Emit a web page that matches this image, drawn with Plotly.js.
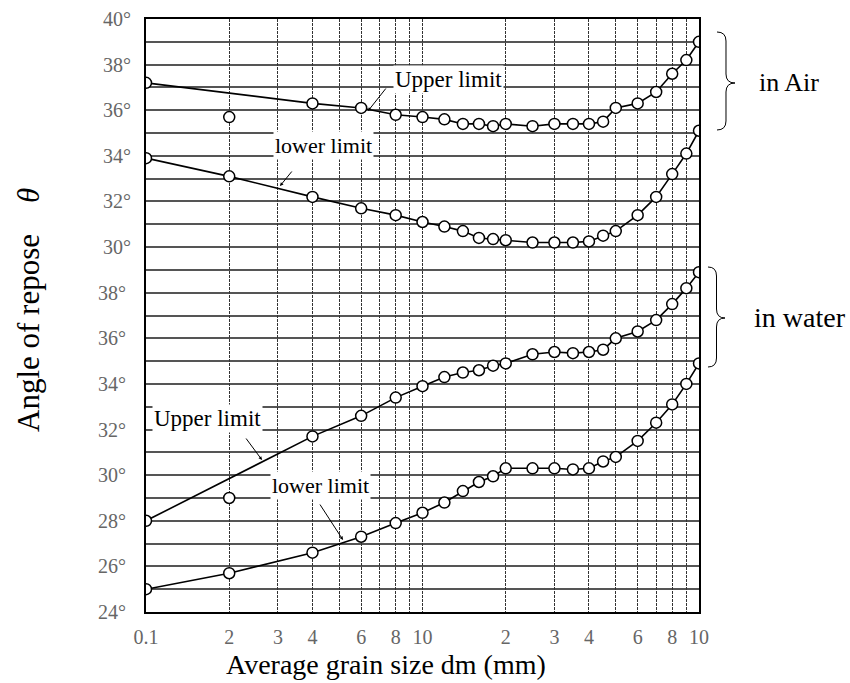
<!DOCTYPE html>
<html>
<head>
<meta charset="utf-8">
<script src="https://cdn.plot.ly/plotly-3.0.1.min.js"></script>
<style>html,body{margin:0;padding:0;background:#fff;}#chart{width:850px;height:683px;}</style>
</head>
<body>
<div id="chart"></div>
<script>
// ---- data ----
const grainSize = [0.1, 0.2, 0.4, 0.6, 0.8, 1.0, 1.2, 1.4, 1.6, 1.8, 2.0, 2.5, 3.0, 3.5, 4.0, 4.5, 5, 6, 7, 8, 9, 10];
const airUpper   = [37.2, 35.7, 36.3, 36.1, 35.8, 35.7, 35.6, 35.4, 35.4, 35.3, 35.4, 35.3, 35.4, 35.4, 35.4, 35.5, 36.1, 36.3, 36.8, 37.6, 38.2, 39.0];
const airLower   = [33.9, 33.1, 32.2, 31.7, 31.4, 31.1, 30.9, 30.7, 30.4, 30.35, 30.3, 30.2, 30.2, 30.2, 30.25, 30.5, 30.7, 31.4, 32.2, 33.2, 34.1, 35.1];
const waterUpper = [28.0, 29.0, 31.7, 32.6, 33.4, 33.9, 34.3, 34.5, 34.6, 34.8, 34.9, 35.3, 35.4, 35.35, 35.4, 35.5, 36.0, 36.3, 36.8, 37.5, 38.2, 38.9];
const waterLower = [25.0, 25.7, 26.6, 27.3, 27.9, 28.35, 28.8, 29.3, 29.7, 29.95, 30.3, 30.3, 30.3, 30.25, 30.3, 30.6, 30.8, 31.5, 32.3, 33.1, 34.0, 34.9];
// points lying off the drawn curve (curve skips them)
const airUpperOffCurve = [0.2];
const waterUpperOffCurve = [0.2];

const xTickVals = [0.1,0.2,0.3,0.4,0.5,0.6,0.7,0.8,0.9,1,2,3,4,5,6,7,8,9,10];
const xTickText = ['0.1','2','3','4','','6','','8','','10','2','3','4','','6','','8','','10'];
const waterTickVals = [24,26,28,30,32,34,36,38];
const airTickVals = [30,32,34,36,38,40];

// ---- geometry helpers ----
const L = 146, R = 699, T = 19, B = 612;
const W = R - L, H = B - T;
const px = x => (x - L) / W;
const py = y => (B - y) / H;

function curve(xs, ys, off) {
  const cx = [], cy = [];
  xs.forEach((x, i) => { if (!off.includes(x)) { cx.push(x); cy.push(ys[i]); } });
  return {cx, cy};
}
function brace(xl, yt, yb, xr, ym) {
  const xm = (xl + xr) / 2, r = 9;
  const P = (x, y) => px(x).toFixed(5) + ',' + py(y).toFixed(5);
  return 'M' + P(xl, yt) + ' Q' + P(xm, yt) + ' ' + P(xm, yt + r) +
         ' L' + P(xm, ym - r) + ' Q' + P(xm, ym) + ' ' + P(xr, ym) +
         ' Q' + P(xm, ym) + ' ' + P(xm, ym + r) +
         ' L' + P(xm, yb - r) + ' Q' + P(xm, yb) + ' ' + P(xl, yb);
}

const lineStyle = {color: '#000', width: 1.6};
const markerStyle = {symbol: 'circle', size: 11, color: '#fff', line: {color: '#000', width: 1.5}};

function series(ys, off, yaxis) {
  const c = curve(grainSize, ys, off);
  return [
    {x: c.cx, y: c.cy, yaxis: yaxis, mode: 'lines', line: lineStyle, hoverinfo: 'skip', showlegend: false},
    {x: grainSize, y: ys, yaxis: yaxis, mode: 'markers', marker: markerStyle, showlegend: false}
  ];
}

const traces = [].concat(
  series(airUpper, airUpperOffCurve, 'y2'),
  series(airLower, [], 'y2'),
  series(waterUpper, waterUpperOffCurve, 'y'),
  series(waterLower, [], 'y')
);

const serif = 'Liberation Serif, Times New Roman, serif';
const tickFont = {family: serif, size: 20, color: '#666'};

const gridY = [];
for (let v = 24; v <= 50; v++) gridY.push(v);

function label(text, x, y, size, bg) {
  return {xref: 'paper', yref: 'paper', x: px(x), y: py(y), text: text, showarrow: false,
          xanchor: 'center', yanchor: 'middle', font: {family: serif, size: size, color: '#000'},
          bgcolor: bg ? '#fff' : 'rgba(0,0,0,0)', borderpad: 1};
}
function leader(tx, ty, hx, hy) {
  return {xref: 'paper', yref: 'paper', x: px(hx), y: py(hy), ax: tx - hx, ay: ty - hy,
          text: '', showarrow: true, arrowhead: 2, arrowsize: 0.7, arrowwidth: 1, arrowcolor: '#000'};
}

const layout = {
  width: 850, height: 683,
  margin: {l: L, r: 850 - R, t: T, b: 683 - B, pad: 0},
  paper_bgcolor: '#fff', plot_bgcolor: '#fff',
  showlegend: false,
  xaxis: {
    type: 'log', range: [-1, 1],
    tickmode: 'array', tickvals: xTickVals, ticktext: xTickText,
    ticks: '', ticklabelstandoff: 6, tickfont: tickFont,
    showgrid: true, gridcolor: '#333', gridwidth: 1, griddash: '3px,1px',
    showline: true, mirror: true, linecolor: '#000', linewidth: 2, zeroline: false
  },
  yaxis: {
    range: [24, 50],
    tickmode: 'array', tickvals: waterTickVals, ticktext: waterTickVals.map(v => v + '°'),
    ticks: '', ticklabelstandoff: 14, tickfont: tickFont,
    showgrid: false,
    minor: {tickmode: 'array', tickvals: gridY, showgrid: true, gridcolor: '#555', gridwidth: 2, ticks: ''},
    showline: true, mirror: true, linecolor: '#000', linewidth: 2, zeroline: false
  },
  yaxis2: {
    range: [14, 40], overlaying: 'y', side: 'left', anchor: 'x',
    tickmode: 'array', tickvals: airTickVals, ticktext: airTickVals.map(v => v + '°'),
    ticks: '', ticklabelstandoff: 14, tickfont: tickFont,
    showgrid: false, zeroline: false, showline: false
  },
  shapes: [
    {type: 'path', xref: 'paper', yref: 'paper', path: brace(717, 32, 130, 735, 83), line: {color: '#000', width: 1}},
    {type: 'path', xref: 'paper', yref: 'paper', path: brace(708, 267, 367, 725, 318), line: {color: '#000', width: 1}}
  ],
  annotations: [
    label('Upper limit', 448, 80, 23, true),
    label('lower limit', 323, 145, 22, true),
    label('Upper limit', 207, 418, 23, true),
    label('lower limit', 320, 485, 22, true),
    label('in Air', 789, 82, 26, false),
    label('in water', 800, 317, 28, false),
    leader(387, 87, 368, 111),
    leader(293, 170, 280, 186),
    leader(245, 437, 262, 460),
    leader(319, 503, 343, 540),
    {xref: 'paper', yref: 'paper', x: px(386), y: py(664), text: 'Average grain size dm (mm)', showarrow: false,
     xanchor: 'center', yanchor: 'middle', font: {family: serif, size: 28, color: '#000'}},
    {xref: 'paper', yref: 'paper', x: px(28), y: py(310), text: 'Angle of repose\u00a0\u00a0\u00a0\u00a0<i>θ</i>', showarrow: false,
     textangle: -90, xanchor: 'center', yanchor: 'middle', font: {family: serif, size: 31, color: '#000'}}
  ]
};

Plotly.newPlot('chart', traces, layout, {displayModeBar: false, staticPlot: true});
</script>
</body>
</html>
